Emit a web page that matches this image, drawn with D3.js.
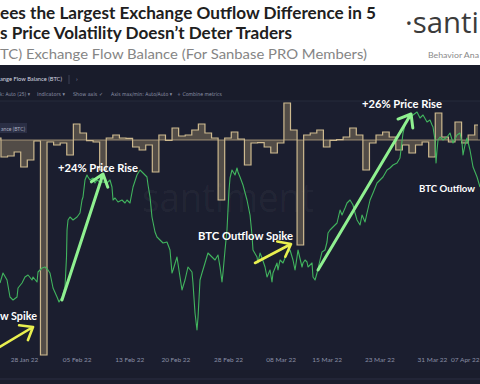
<!DOCTYPE html>
<html><head><meta charset="utf-8">
<script src="https://cdn.jsdelivr.net/npm/d3@7"></script>
<style>html,body{margin:0;padding:0;background:#fff;overflow:hidden}svg{display:block}</style>
</head><body>
<svg id="chart" width="480" height="384"></svg>
<script>
// ---------------- data ----------------
const titleLines = ["ees the Largest Exchange Outflow Difference in 5", "s Price Volatility Doesn\u2019t Deter Traders"];
const subtitle = "TC) Exchange Flow Balance (For Sanbase PRO Members)";
const tickDates = ["2022-01-28","2022-02-05","2022-02-13","2022-02-20","2022-02-28","2022-03-08","2022-03-15","2022-03-23","2022-03-31","2022-04-07"];
const seriesStart = "2022-01-24";
// daily exchange flow balance (BTC), one value per day from seriesStart
const flowValues = [300,-2550,-2400,-1800,-4050,-3000,-150,-32250,-300,-750,-450,-2250,2400,1050,-100,-300,-4500,300,750,300,250,-1050,-1500,-750,-4800,750,-50,1800,600,750,1500,2400,1050,300,-9000,300,1200,150,-3750,-450,-400,-1050,-1950,-450,5550,1500,-15750,750,1050,1500,-1050,-50,50,450,1800,750,-4500,-450,750,1200,450,-1500,-750,-1950,-750,-300,-2550,4050,450,-300,2700,-450,750,2250];
// BTC price samples: day offset from seriesStart, and price (USD)
const priceDays = [0.35,0.81,1.42,1.87,2.33,2.94,3.09,3.70,4.15,4.61,5.22,5.37,5.98,6.13,6.74,7.19,7.65,7.95,8.26,8.41,9.02,9.32,9.78,10.23,10.46,10.54,10.69,10.99,11.45,12.06,12.51,12.82,12.97,13.27,13.57,13.73,14.03,14.49,14.79,15.09,15.55,16.01,16.61,17.07,17.37,17.53,17.83,18.29,18.89,19.35,19.65,20.11,20.57,21.17,21.63,22.09,22.69,22.85,23.15,23.45,23.91,24.21,24.67,25.13,25.73,26.19,26.49,26.65,27.25,27.71,28.01,28.47,28.92,29.53,29.68,29.99,30.29,30.45,30.75,31.05,31.51,31.96,32.57,33.03,33.48,33.79,34.09,34.24,34.55,34.70,34.85,35.00,35.16,35.31,35.61,36.07,36.37,36.52,36.83,37.28,37.89,38.35,38.65,38.80,39.41,39.56,39.87,40.17,40.63,40.93,41.39,41.69,41.84,42.45,42.60,42.91,43.36,43.97,44.43,44.88,45.19,45.49,45.64,46.25,46.40,46.71,47.01,47.16,47.77,47.92,48.23,48.53,48.99,49.29,49.75,50.05,50.20,50.51,50.96,51.57,52.03,52.33,52.79,53.09,53.55,54.00,54.31,54.61,55.07,55.37,55.83,56.13,56.59,57.04,57.65,58.11,58.56,59.17,59.62,60.08,60.69,61.14,61.60,61.90,62.21,62.66,63.12,63.73,64.18,64.64,65.25,65.70,66.01,66.16,66.46,66.62,66.77,66.92,67.22,67.68,68.29,68.74,69.20,69.81,70.26,70.57,70.72,71.02,71.33,71.78,72.24,72.85,73.30];
const priceValues = [38850,39350,39000,38150,38000,38150,38600,38850,39150,39250,39000,39150,38900,39400,39600,39650,39500,39350,38850,38600,38150,37900,38150,38650,40150,41500,42000,42150,42000,42150,42350,43000,43150,44000,44250,44150,44000,44100,43850,44000,43900,43900,43850,44000,43650,43000,43100,42900,43000,42850,43000,42850,43650,44250,44500,44350,44150,43750,43150,42150,41400,41150,41000,40850,40900,40500,39350,39500,40150,39150,38500,39000,39650,39400,38850,37350,36500,37150,39000,39350,39850,40350,40150,40000,40250,39650,38900,39350,40500,41000,41500,42500,43500,44100,44500,44250,44600,44400,44150,43750,43000,42250,41250,40500,40150,39850,40350,40100,39650,39150,39500,38900,39350,39850,39500,40000,39850,40350,40500,40000,39500,40150,40500,39650,39850,40000,39900,39650,39850,39150,39000,39350,40000,40400,40500,40900,41350,41500,41650,41850,42500,42250,42600,42850,43000,42750,42350,42000,41750,42250,41900,42350,43000,43350,43850,44000,44150,44500,44600,44750,44850,45100,46350,46750,47000,47150,47250,47400,47100,47250,46900,47000,46750,46650,46000,44850,45500,46000,46150,46000,46150,46350,45850,46250,46350,45850,45250,45750,46100,45500,44650,44150,43650];
// annotations in data coordinates: [dayOffset, price]
const greenArrows = [{from:[9.77,38000], to:[16.01,44300]}, {from:[48.68,39500], to:[62.82,47300]}];
const yellowArrows = [{from:[0.05,35600], to:[5.37,36650]}, {from:[39.11,39850], to:[44.58,40800]}];
const labels = [
  {text:"+24% Price Rise", at:[9.17,44400], len:80, size:11.5},
  {text:"+26% Price Rise", at:[55.37,47600], len:80, size:11.5},
  {text:"BTC Outflow Spike", at:[30.44,41000], len:95, size:11.5},
  {text:"BTC Outflow", at:[64.03,43400], len:56, size:9.8},
  {text:"w Spike", at:[0.35,37000], len:37, size:11.5}
];
const toolbarItems = ["k: Auto (25) \u25BE","Indicators \u25BE","Show axis \u2713","Axis max/min: Auto/Auto \u25BE","+ Combine metrics"];

// ---------------- setup ----------------
const W = 480, H = 384;
const FONT = "Lato, 'Open Sans', sans-serif";
const svg = d3.select("#chart");
const DAY = 86400000;
const t0 = new Date(seriesStart + "T00:00:00Z").getTime();
const dayToDate = d => new Date(t0 + d * DAY);

const x = d3.scaleUtc().domain([dayToDate(0.3526), dayToDate(73.30)]).range([0, W]);
const yPrice = d3.scaleLinear().domain([36000, 48000]).range([340, 100]);
const yFlow = d3.scaleLinear().domain([-30000, 6000]).range([340, 100]);

// backgrounds
svg.append("rect").attr("width", W).attr("height", 65).attr("fill", "#ffffff");
svg.append("rect").attr("y", 65).attr("width", W).attr("height", H - 65).attr("fill", "#1b1e2f");
svg.append("rect").attr("y", 65).attr("width", W).attr("height", 36).attr("fill", "#191c2b");
svg.append("line").attr("x1", 0).attr("x2", W).attr("y1", 101).attr("y2", 101).attr("stroke", "#262a3c").attr("stroke-width", 1);
svg.append("rect").attr("y", 370).attr("width", W).attr("height", 14).attr("fill", "#1a1d2c");
svg.append("line").attr("x1", 0).attr("x2", W).attr("y1", 379).attr("y2", 379).attr("stroke", "#2a2e40").attr("stroke-width", 1);

// header text
svg.selectAll("text.title").data(titleLines).join("text").attr("class", "title")
  .attr("x", 0).attr("y", (d, i) => 18.5 + i * 20)
  .attr("font-family", FONT).attr("font-weight", 700).attr("font-size", 17).attr("fill", "#202020")
  .attr("textLength", (d, i) => [376, 292][i]).attr("lengthAdjust", "spacingAndGlyphs").text(d => d);
svg.append("text").attr("x", 0).attr("y", 59).attr("font-family", FONT).attr("font-size", 14)
  .attr("fill", "#858585").attr("textLength", 367).attr("lengthAdjust", "spacingAndGlyphs").text(subtitle);
svg.append("text").attr("x", 405).attr("y", 33).attr("font-family", "'Open Sans', sans-serif").attr("font-size", 30)
  .attr("fill", "#3b3b3b").attr("textLength", 74).attr("lengthAdjust", "spacingAndGlyphs").text("\u00B7santi");
svg.append("text").attr("x", 428).attr("y", 58).attr("font-family", FONT).attr("font-size", 7.5)
  .attr("fill", "#8a8a8a").attr("textLength", 51).attr("lengthAdjust", "spacingAndGlyphs").text("Behavior Ana");

// toolbar
svg.append("text").attr("x", 0).attr("y", 81).attr("font-family", FONT).attr("font-size", 6.5)
  .attr("fill", "#d4d6e0").attr("textLength", 62).attr("lengthAdjust", "spacingAndGlyphs").text("ange Flow Balance (BTC)");
svg.append("line").attr("x1", 69).attr("x2", 69).attr("y1", 75).attr("y2", 84).attr("stroke", "#3c4157");
svg.append("text").attr("x", 76).attr("y", 81).attr("font-family", FONT).attr("font-size", 6).attr("fill", "#8d92a8").text("\u203A");
const tbX = [0, 37, 73, 111, 177], tbW = [30, 28, 30, 61, 45];
svg.selectAll("text.tb").data(toolbarItems).join("text").attr("class", "tb")
  .attr("x", (d, i) => tbX[i]).attr("y", 95.5).attr("font-family", "'DejaVu Sans', sans-serif").attr("font-size", 5.2)
  .attr("fill", "#8e93a8").attr("textLength", (d, i) => tbW[i]).attr("lengthAdjust", "spacingAndGlyphs").text(d => d);

// watermark
svg.append("text").attr("x", 142).attr("y", 212).attr("font-family", "'Open Sans', sans-serif").attr("font-size", 40)
  .attr("fill", "#ffffff").attr("fill-opacity", 0.045).attr("textLength", 172).attr("lengthAdjust", "spacingAndGlyphs").text("santiment");

// flow (step area)
const flowData = flowValues.map((v, i) => ({date: dayToDate(i), v}));
const area = d3.area().curve(d3.curveStep).x(d => x(d.date)).y0(yFlow(0)).y1(d => yFlow(d.v));
const line = d3.line().curve(d3.curveStep).x(d => x(d.date)).y(d => yFlow(d.v));
svg.append("path").datum(flowData).attr("d", area).attr("fill", "#c3aa78").attr("fill-opacity", 0.33);
svg.append("line").attr("x1", 0).attr("x2", W).attr("y1", yFlow(0)).attr("y2", yFlow(0))
  .attr("stroke", "#c9b48b").attr("stroke-opacity", 0.7).attr("stroke-width", 1);
svg.append("path").datum(flowData).attr("d", line).attr("fill", "none").attr("stroke", "#cdb98f").attr("stroke-width", 1.2);

// legend tag
svg.append("rect").attr("x", -1).attr("y", 123).attr("width", 28).attr("height", 10).attr("fill", "#2a2e44");
svg.append("text").attr("x", 1).attr("y", 130.5).attr("font-family", FONT).attr("font-size", 5.5)
  .attr("fill", "#a8acbf").attr("textLength", 24).attr("lengthAdjust", "spacingAndGlyphs").text("ance (BTC)");

// price line
const priceData = priceDays.map((d, i) => ({date: dayToDate(d), p: priceValues[i]}));
svg.append("path").datum(priceData)
  .attr("d", d3.line().x(d => x(d.date)).y(d => yPrice(d.p)))
  .attr("fill", "none").attr("stroke", "#41b45e").attr("stroke-width", 1.1).attr("stroke-linejoin", "round");

// arrows
function drawArrow(a, color, w) {
  const x1 = x(dayToDate(a.from[0])), y1 = yPrice(a.from[1]);
  const x2 = x(dayToDate(a.to[0])), y2 = yPrice(a.to[1]);
  const ang = Math.atan2(y1 - y2, x1 - x2), L = 14, s = 38 * Math.PI / 180;
  const p = d3.path();
  p.moveTo(x1, y1); p.lineTo(x2, y2);
  p.moveTo(x2 + L * Math.cos(ang + s), y2 + L * Math.sin(ang + s));
  p.lineTo(x2, y2);
  p.lineTo(x2 + L * Math.cos(ang - s), y2 + L * Math.sin(ang - s));
  svg.append("path").attr("d", p.toString()).attr("fill", "none").attr("stroke", color)
    .attr("stroke-width", w).attr("stroke-linecap", "round").attr("stroke-linejoin", "round");
}
greenArrows.forEach(a => drawArrow(a, "#8ff090", 3));
yellowArrows.forEach(a => drawArrow(a, "#e9ef4f", 2.6));

// annotation labels
svg.selectAll("text.ann").data(labels).join("text").attr("class", "ann")
  .attr("x", d => x(dayToDate(d.at[0]))).attr("y", d => yPrice(d.at[1]))
  .attr("font-family", FONT).attr("font-weight", 700).attr("font-size", d => d.size).attr("fill", "#ffffff")
  .attr("textLength", d => d.len).attr("lengthAdjust", "spacingAndGlyphs").text(d => d.text);

// x axis
const fmt = d3.utcFormat("%d %b %y");
const axis = d3.axisBottom(x).tickValues(tickDates.map(s => new Date(s + "T00:00:00Z")))
  .tickFormat(fmt).tickSize(0).tickPadding(0);
const gx = svg.append("g").attr("transform", "translate(0,357)").call(axis);
gx.select(".domain").remove();
gx.selectAll("text").attr("font-family", FONT).attr("font-size", 6.5).attr("fill", "#8a8fa6");
// keep the last label inside the frame
gx.selectAll(".tick text").filter((d, i, n) => i === n.length - 1).attr("text-anchor", "end").attr("x", 479 - x(new Date(tickDates[tickDates.length - 1] + "T00:00:00Z")));
</script>
</body></html>
